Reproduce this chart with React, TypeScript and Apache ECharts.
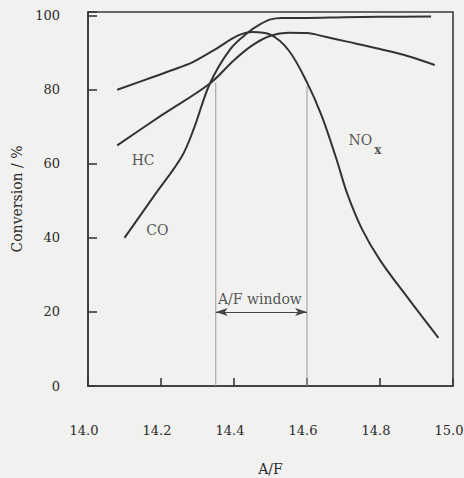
import React, { useEffect, useRef } from "react";
import * as echarts from "echarts";

// A/F ratio vs conversion (%)
const noxData: [number, number][] = [
  [14.08, 80], [14.18, 83.5], [14.25, 86], [14.29, 87.6], [14.35, 91], [14.41, 94.6],
  [14.45, 95.6], [14.5, 94.9], [14.55, 90.6], [14.6, 82], [14.64, 73], [14.68, 61.5],
  [14.71, 52], [14.75, 42.5], [14.8, 34], [14.88, 23.3], [14.96, 13],
];
const hcData: [number, number][] = [
  [14.08, 65], [14.2, 73], [14.334, 81.7], [14.4, 88], [14.45, 92], [14.5, 94.6],
  [14.55, 95.4], [14.6, 95.3], [14.65, 94.3], [14.71, 93], [14.8, 91], [14.88, 89], [14.95, 86.7],
];
const coData: [number, number][] = [
  [14.1, 40], [14.18, 51.2], [14.257, 62], [14.29, 69.5], [14.334, 81.7],
  [14.39, 91], [14.44, 95.6], [14.47, 97.6], [14.5, 99], [14.53, 99.4], [14.6, 99.4],
  [14.7, 99.6], [14.8, 99.7], [14.94, 99.8],
];
const windowLeftLine: [number, number][] = [[14.35, 0], [14.35, 82]];
const windowRightLine: [number, number][] = [[14.6, 0], [14.6, 81]];
const windowArrow: [number, number][] = [[14.35, 20], [14.6, 20]];
const curveLabels = [
  { name: "HC", value: [14.151, 61.0] },
  { name: "CO", value: [14.19, 42.2] },
  { name: "NO", value: [14.746, 66.3] },
  { name: "A/F window", value: [14.471, 23.6] },
];
const subLabels = [{ name: "x", value: [14.794, 63.8] }];
const xTickLabels = ["14.0", "14.2", "14.4", "14.6", "14.8", "15.0"];

const FONT = "DejaVu Serif";
const INK = "#2a2a2a";
const LINE = "#333";

export default function App() {
  const ref = useRef<HTMLDivElement>(null);
  useEffect(() => {
    if (!ref.current) return;
    const chart = echarts.init(ref.current, undefined, { renderer: "svg" });
    const curve = (name: string, data: [number, number][]) => ({
      name,
      type: "line",
      data,
      smooth: 0.35,
      symbol: "none",
      lineStyle: { color: LINE, width: 2 },
      z: 3,
    });
    chart.setOption({
      animation: false,
      backgroundColor: "#f1f1f0",
      textStyle: { fontFamily: FONT },
      grid: {
        left: 88,
        right: 11,
        top: 12,
        bottom: 92,
        containLabel: false,
        outerBoundsMode: "none",
        show: true,
        borderColor: "#3a3a3a",
        borderWidth: 1.6,
        backgroundColor: "transparent",
      },
      xAxis: {
        type: "value",
        min: 14,
        max: 15,
        interval: 0.2,
        name: "A/F",
        nameLocation: "middle",
        nameGap: 76,
        nameTextStyle: { fontFamily: FONT, fontSize: 14, color: INK },
        axisLine: { show: true, lineStyle: { color: "#3a3a3a", width: 1.6 } },
        axisTick: { show: true, inside: true, length: 8, lineStyle: { color: "#3a3a3a", width: 1.6 } },
        splitLine: { show: false },
        axisLabel: {
          margin: 38,
          padding: [0, 8, 0, 0],
          fontFamily: FONT,
          fontSize: 13,
          color: INK,
          formatter: (v: number) => xTickLabels[Math.round((v - 14) / 0.2)] ?? "",
        },
      },
      yAxis: {
        type: "value",
        min: 0,
        max: 101,
        interval: 20,
        name: "Conversion / %",
        nameLocation: "middle",
        nameGap: 64,
        nameTextStyle: { fontFamily: FONT, fontSize: 14, color: INK },
        axisLine: { show: true, lineStyle: { color: "#3a3a3a", width: 1.6 } },
        axisTick: { show: true, inside: true, length: 9, lineStyle: { color: "#3a3a3a", width: 1.6 } },
        splitLine: { show: false },
        axisLabel: {
          margin: 28,
          fontFamily: FONT,
          fontSize: 13,
          color: INK,
          formatter: (v: number) => (v > 100 ? "" : String(v)),
        },
      },
      series: [
        curve("NOx", noxData),
        curve("HC", hcData),
        curve("CO", coData),
        {
          type: "line",
          data: windowLeftLine,
          symbol: "none",
          lineStyle: { color: "#9c9c9c", width: 1 },
          z: 2,
        },
        {
          type: "line",
          data: windowRightLine,
          symbol: "none",
          lineStyle: { color: "#9c9c9c", width: 1 },
          z: 2,
          markLine: {
            silent: true,
            symbol: ["arrow", "arrow"],
            symbolSize: [6, 12],
            lineStyle: { color: "#444", width: 1, type: "solid" },
            label: { show: false },
            data: [[{ coord: windowArrow[0] }, { coord: windowArrow[1] }]],
          },
        },
        {
          type: "scatter",
          data: curveLabels,
          symbolSize: 0,
          z: 5,
          label: {
            show: true,
            position: "inside",
            formatter: (p: any) => p.name,
            fontFamily: FONT,
            fontSize: 14,
            color: INK,
          },
        },
        {
          type: "scatter",
          data: subLabels,
          symbolSize: 0,
          z: 5,
          label: {
            show: true,
            position: "inside",
            formatter: (p: any) => p.name,
            fontFamily: FONT,
            fontSize: 12,
            fontWeight: "bold",
            color: INK,
          },
        },
      ],
    });
    return () => chart.dispose();
  }, []);
  return (
    <div
      ref={ref}
      style={{ position: "fixed", left: 0, top: 0, width: 464, height: 478 }}
    />
  );
}
